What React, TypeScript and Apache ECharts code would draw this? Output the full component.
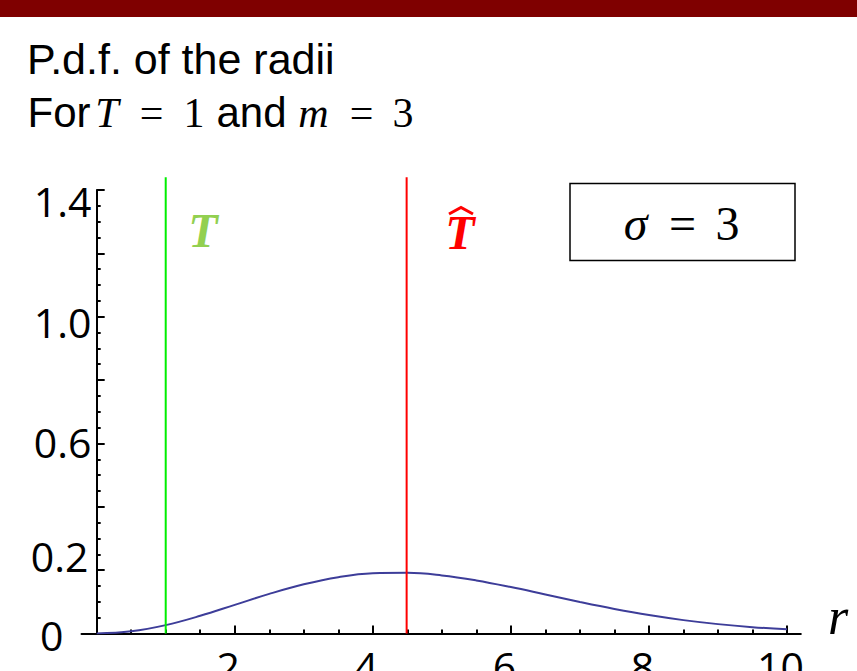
import React, { useEffect, useRef } from 'react';
import * as echarts from 'echarts';

// radius samples and the plotted p.d.f. values
const rValues = [0, 0.5, 1, 1.5, 2, 2.5, 3, 3.5, 4, 4.5, 5, 5.5, 6, 6.5, 7, 7.5, 8, 8.5, 9, 9.5, 10];
const pdfValues = [0, 0.0069, 0.0265, 0.0558, 0.0903, 0.1251, 0.1554, 0.1778, 0.19, 0.1915, 0.1834, 0.1675, 0.1465, 0.123, 0.0994, 0.0774, 0.0581, 0.0422, 0.0296, 0.0201, 0.0132];

// axes
const xMajorTicks = [2, 4, 6, 8, 10];
const xMinorTicks = [0.5, 1, 1.5, 2, 2.5, 3, 3.5, 4, 4.5, 5, 5.5, 6, 6.5, 7, 7.5, 8, 8.5, 9, 9.5, 10];
const xTickLabels = [2, 4, 6, 8, 10];
const yTickLabels = [0, 0.2, 0.6, 1.0, 1.4];
const xAxisTitle = 'r';

// vertical markers
const tTrue = 1;
const tHat = 4.49;
const markerBottom = 0;
const markerTop = 1.44;
const sigmaValue = 3;

export default function App() {
  const ref = useRef<HTMLDivElement>(null);

  useEffect(() => {
    document.body.style.margin = '0';
    const chart = echarts.init(ref.current!, null, { renderer: 'svg' });

    const yLabelRich: Record<string, any> = {};
    const yPads = [
      [3, 28, 0, 0],
      [0, 3, 29, 0],
      [0, 0, 3, 0],
      [11, 0, 0, 0],
      [21, 0, 0, 0],
    ];
    yPads.forEach((p, i) => {
      yLabelRich['s' + i] = {
        fontFamily: 'Open Sans',
        fontSize: 41,
        color: '#000',
        padding: p,
      };
    });

    const sansTitle = { fontFamily: 'Liberation Sans', fontSize: 42, fill: '#000', align: 'center' };
    const serifIt = { fontFamily: 'Liberation Serif', fontStyle: 'italic', fontSize: 42, fill: '#000', align: 'center' };
    const serif = { fontFamily: 'Liberation Serif', fontSize: 42, fill: '#000', align: 'center' };

    const option: any = {
      animation: false,
      grid: { left: 81.5, right: 56.2, top: 190, bottom: 37.5, containLabel: false, outerBoundsMode: 'none' },
      xAxis: [
        {
          type: 'value',
          min: -0.22,
          max: 10.2,
          position: 'bottom',
          axisLine: { show: true, onZero: false, lineStyle: { color: '#000', width: 2 } },
          axisTick: { show: true, inside: true, length: 4, customValues: xMinorTicks, lineStyle: { color: '#000', width: 2 } },
          axisLabel: {
            show: true,
            customValues: xTickLabels,
            margin: 12,
            fontFamily: 'Open Sans',
            fontSize: 41,
            color: '#000',
            padding: [0, 13, 0, 0],
          },
          splitLine: { show: false },
        },
        {
          type: 'value',
          min: -0.22,
          max: 10.2,
          position: 'bottom',
          axisLine: { show: false, onZero: false },
          axisTick: { show: true, inside: true, length: 8, customValues: xMajorTicks, lineStyle: { color: '#000', width: 2 } },
          axisLabel: { show: false },
          splitLine: { show: false },
        },
      ],
      yAxis: {
        type: 'value',
        min: 0,
        max: 1.4,
        interval: 0.2,
        axisLine: { show: true, onZero: true, lineStyle: { color: '#000', width: 2 } },
        axisTick: { show: true, inside: true, length: 8, lineStyle: { color: '#000', width: 2 } },
        minorTick: { show: true, splitNumber: 4, length: 4, lineStyle: { color: '#000', width: 2 } },
        splitLine: { show: false },
        minorSplitLine: { show: false },
        axisLabel: {
          margin: -10,
          rich: yLabelRich,
          formatter: (v: number) => {
            const idx = yTickLabels.findIndex((t) => Math.abs(t - v) < 1e-6);
            if (idx < 0) return '';
            const t = yTickLabels[idx];
            const txt = t === 0 ? '0' : t.toFixed(1);
            return `{s${idx}|${txt}}`;
          },
        },
      },
      series: [
        {
          type: 'line',
          xAxisIndex: 0,
          yAxisIndex: 0,
          data: rValues.map((r, i) => [r, pdfValues[i]]),
          smooth: 0.4,
          showSymbol: false,
          symbol: 'none',
          lineStyle: { color: '#3d3d99', width: 2 },
          z: 3,
        },
        {
          type: 'line',
          xAxisIndex: 0,
          yAxisIndex: 0,
          data: [[tTrue, markerBottom], [tTrue, markerTop]],
          showSymbol: false,
          symbol: 'none',
          clip: false,
          lineStyle: { color: '#00ee00', width: 2 },
          z: 4,
        },
        {
          type: 'line',
          xAxisIndex: 0,
          yAxisIndex: 0,
          data: [[tHat, markerBottom], [tHat, markerTop]],
          showSymbol: false,
          symbol: 'none',
          clip: false,
          lineStyle: { color: '#ff0000', width: 2 },
          z: 4,
        },
      ],
      graphic: [
        { type: 'rect', shape: { x: 0, y: 0, width: 857, height: 17 }, style: { fill: '#7f0000' }, silent: true },
        {
          type: 'text',
          x: 27,
          y: 59,
          style: {
            text: 'P.d.f. of the radii',
            fontFamily: 'Liberation Sans',
            fontSize: 43,
            fill: '#000',
            align: 'left',
            verticalAlign: 'middle',
          },
        },
        {
          type: 'text',
          x: 26,
          y: 112.5,
          style: {
            text: '{a|For}{m|T}{e|=}{n|1}{b|and}{k|m}{f|=}{o|' + sigmaValue + '}',
            align: 'left',
            verticalAlign: 'middle',
            rich: {
              a: { ...sansTitle, width: 66 },
              m: { ...serifIt, width: 30 },
              e: { ...serif, width: 59 },
              n: { ...serif, width: 26 },
              b: { ...sansTitle, width: 89 },
              k: { ...serifIt, width: 35 },
              f: { ...serif, width: 61 },
              o: { ...serif, width: 22 },
            },
          },
        },
        {
          type: 'text',
          x: 828,
          y: 616,
          style: {
            text: xAxisTitle,
            fontFamily: 'Liberation Serif',
            fontStyle: 'italic',
            fontSize: 52,
            fill: '#000',
            align: 'left',
            verticalAlign: 'middle',
          },
        },
        {
          type: 'text',
          x: 203,
          y: 230,
          style: {
            text: 'T',
            fontFamily: 'Liberation Serif',
            fontStyle: 'italic',
            fontWeight: 'bold',
            fontSize: 48,
            fill: '#92d050',
            align: 'center',
            verticalAlign: 'middle',
          },
        },
        {
          type: 'text',
          x: 460,
          y: 232,
          style: {
            text: 'T',
            fontFamily: 'Liberation Serif',
            fontStyle: 'italic',
            fontWeight: 'bold',
            fontSize: 48,
            fill: '#ff0000',
            align: 'center',
            verticalAlign: 'middle',
          },
        },
        {
          type: 'polyline',
          shape: { points: [[449, 214], [461, 207.5], [473, 214]] },
          style: { stroke: '#ff0000', lineWidth: 3, fill: 'none' },
        },
        {
          type: 'rect',
          shape: { x: 570, y: 183.5, width: 225, height: 77 },
          style: { fill: '#fff', stroke: '#000', lineWidth: 1.5 },
        },
        {
          type: 'text',
          x: 612,
          y: 223.5,
          style: {
            text: '{s|σ}{e|=}{n|' + sigmaValue + '}',
            align: 'left',
            verticalAlign: 'middle',
            rich: {
              s: { fontFamily: 'Liberation Serif', fontStyle: 'italic', fontSize: 48, fill: '#000', align: 'center', width: 47 },
              e: { fontFamily: 'Liberation Serif', fontSize: 48, fill: '#000', align: 'center', width: 47 },
              n: { fontFamily: 'Liberation Serif', fontSize: 48, fill: '#000', align: 'center', width: 43 },
            },
          },
        },
      ],
    };

    chart.setOption(option);
    return () => chart.dispose();
  }, []);

  return <div ref={ref} style={{ width: 857, height: 671 }} />;
}
